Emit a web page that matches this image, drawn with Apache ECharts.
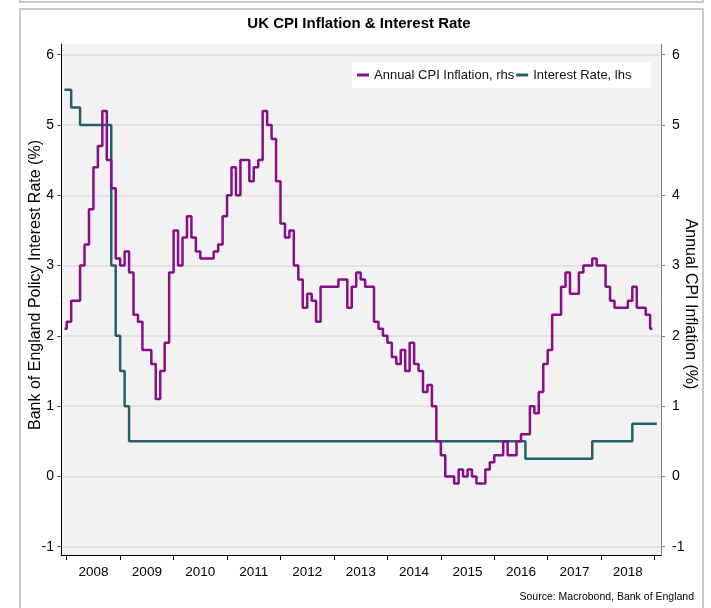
<!DOCTYPE html>
<html>
<head>
<meta charset="utf-8">
<script src="https://cdn.jsdelivr.net/npm/echarts@6/dist/echarts.min.js"></script>
<style>
  html, body { margin: 0; padding: 0; background: #fff; }
  #chart { width: 711px; height: 608px; }
</style>
</head>
<body>
<div id="chart"></div>
<script>
// monthly series, first value is Dec 2007
const firstYear = 2007;
const firstMonth = 12;

// Annual CPI inflation (%), Dec 2007 .. Dec 2018
const cpiInflation = [
  2.1,
  2.2, 2.5, 2.5, 3.0, 3.3, 3.8, 4.4, 4.7, 5.2, 4.5, 4.1, 3.1,
  3.0, 3.2, 2.9, 2.3, 2.2, 1.8, 1.8, 1.6, 1.1, 1.5, 1.9, 2.9,
  3.5, 3.0, 3.4, 3.7, 3.4, 3.2, 3.1, 3.1, 3.1, 3.2, 3.3, 3.7,
  4.0, 4.4, 4.0, 4.5, 4.5, 4.2, 4.4, 4.5, 5.2, 5.0, 4.8, 4.2,
  3.6, 3.4, 3.5, 3.0, 2.8, 2.4, 2.6, 2.5, 2.2, 2.7, 2.7, 2.7,
  2.7, 2.8, 2.8, 2.4, 2.7, 2.9, 2.8, 2.7, 2.7, 2.2, 2.1, 2.0,
  1.9, 1.7, 1.6, 1.8, 1.5, 1.9, 1.6, 1.5, 1.2, 1.3, 1.0, 0.5,
  0.3, 0.0, 0.0, -0.1, 0.1, 0.0, 0.1, 0.0, -0.1, -0.1, 0.1, 0.2,
  0.3, 0.3, 0.5, 0.3, 0.3, 0.5, 0.6, 0.6, 1.0, 0.9, 1.2, 1.6,
  1.8, 2.3, 2.3, 2.7, 2.9, 2.6, 2.6, 2.9, 3.0, 3.0, 3.1, 3.0,
  3.0, 2.7, 2.5, 2.4, 2.4, 2.4, 2.5, 2.7, 2.4, 2.4, 2.3, 2.1
];

// Bank Rate (%), Dec 2007 .. Jan 2019
const interestRate = [
  5.5,
  5.5, 5.25, 5.25, 5.0, 5.0, 5.0, 5.0, 5.0, 5.0, 5.0, 3.0, 2.0,
  1.5, 1.0, 0.5, 0.5, 0.5, 0.5, 0.5, 0.5, 0.5, 0.5, 0.5, 0.5,
  0.5, 0.5, 0.5, 0.5, 0.5, 0.5, 0.5, 0.5, 0.5, 0.5, 0.5, 0.5,
  0.5, 0.5, 0.5, 0.5, 0.5, 0.5, 0.5, 0.5, 0.5, 0.5, 0.5, 0.5,
  0.5, 0.5, 0.5, 0.5, 0.5, 0.5, 0.5, 0.5, 0.5, 0.5, 0.5, 0.5,
  0.5, 0.5, 0.5, 0.5, 0.5, 0.5, 0.5, 0.5, 0.5, 0.5, 0.5, 0.5,
  0.5, 0.5, 0.5, 0.5, 0.5, 0.5, 0.5, 0.5, 0.5, 0.5, 0.5, 0.5,
  0.5, 0.5, 0.5, 0.5, 0.5, 0.5, 0.5, 0.5, 0.5, 0.5, 0.5, 0.5,
  0.5, 0.5, 0.5, 0.5, 0.5, 0.5, 0.5, 0.25, 0.25, 0.25, 0.25, 0.25,
  0.25, 0.25, 0.25, 0.25, 0.25, 0.25, 0.25, 0.25, 0.25, 0.25, 0.5, 0.5,
  0.5, 0.5, 0.5, 0.5, 0.5, 0.5, 0.5, 0.75, 0.75, 0.75, 0.75, 0.75,
  0.75
];

const yTicks = [-1, 0, 1, 2, 3, 4, 5, 6];
const yearTicks = [2008, 2009, 2010, 2011, 2012, 2013, 2014, 2015, 2016, 2017, 2018, 2019];
const yearLabels = [2008, 2009, 2010, 2011, 2012, 2013, 2014, 2015, 2016, 2017, 2018];

const purple = '#880d88';
const teal = '#23606e';
const font = "'Liberation Sans', Arial, sans-serif";

// x position = middle of the month, in years
const monthX = (i) => firstYear + (firstMonth - 1 + i + 0.5) / 12;

const chart = echarts.init(document.getElementById('chart'));

const option = {
  animation: false,
  backgroundColor: '#fff',
  title: {
    text: 'UK CPI Inflation & Interest Rate',
    left: 354,
    top: 11,
    textAlign: 'center',
    textStyle: { fontFamily: font, fontSize: 15, fontWeight: 'bold', color: '#000' }
  },
  legend: {
    left: 352,
    top: 62,
    backgroundColor: '#fff',
    padding: [6, 19, 6, 5],
    itemWidth: 12,
    itemHeight: 3,
    itemGap: 2,
    icon: 'rect',
    textStyle: { fontFamily: font, fontSize: 13, color: '#111', lineHeight: 14 },
    data: ['Annual CPI Inflation, rhs', 'Interest Rate, lhs']
  },
  grid: {
    left: 61,
    right: 50,
    top: 44,
    bottom: 53,
    show: true,
    backgroundColor: '#f2f2f2',
    borderWidth: 0
  },
  xAxis: {
    type: 'value',
    min: 2007.893,
    max: 2019.12,
    axisLine: { show: true, onZero: false, lineStyle: { color: '#000', width: 1 } },
    axisTick: { show: true, customValues: yearTicks, length: 5, lineStyle: { color: '#000' } },
    axisLabel: {
      customValues: yearLabels.map((y) => y + 0.5),
      formatter: (v) => String(Math.floor(v)),
      margin: 10,
      fontFamily: font,
      fontSize: 13.5,
      color: '#000'
    },
    splitLine: { show: false }
  },
  yAxis: [
    {
      type: 'value',
      position: 'left',
      min: -1.118,
      max: 6.152,
      name: 'Bank of England Policy Interest Rate (%)',
      nameLocation: 'middle',
      nameGap: 17,
      nameMoveOverlap: false,
      nameTextStyle: { fontFamily: font, fontSize: 16, color: '#000', padding: [0, 0, 0, 29] },
      axisLine: { show: true, lineStyle: { color: '#000' } },
      axisTick: { show: true, customValues: yTicks, length: 4, lineStyle: { color: '#555' } },
      axisLabel: { customValues: yTicks, margin: 7, fontFamily: font, fontSize: 14, color: '#000' },
      splitLine: { show: true, showMinLine: true, showMaxLine: true, lineStyle: { color: '#dcdcdc', width: 1.5 } }
    },
    {
      type: 'value',
      position: 'right',
      min: -1.118,
      max: 6.152,
      name: 'Annual CPI Inflation (%)',
      nameLocation: 'middle',
      nameRotate: -90,
      nameGap: 21,
      nameMoveOverlap: false,
      nameTextStyle: { fontFamily: font, fontSize: 16, color: '#000', padding: [0, 0, 0, 9] },
      axisLine: { show: true, lineStyle: { color: '#808080' } },
      axisTick: { show: true, customValues: yTicks, length: 4, lineStyle: { color: '#808080' } },
      axisLabel: { customValues: yTicks, margin: 11, fontFamily: font, fontSize: 14, color: '#000' },
      splitLine: { show: false }
    }
  ],
  graphic: [
    { type: 'rect', shape: { x: 20, y: -20, width: 683, height: 22 }, style: { fill: 'none', stroke: '#c8c8c8', lineWidth: 2 }, silent: true },
    { type: 'rect', shape: { x: 20, y: 9, width: 683, height: 640 }, style: { fill: 'none', stroke: '#c8c8c8', lineWidth: 2 }, silent: true },
    {
      type: 'text',
      x: 694,
      y: 597,
      style: {
        text: 'Source: Macrobond, Bank of England',
        fontFamily: font,
        fontSize: 10.5,
        fill: '#000',
        textAlign: 'right',
        textVerticalAlign: 'middle'
      },
      silent: true
    }
  ],
  series: [
    {
      name: 'Interest Rate, lhs',
      type: 'line',
      yAxisIndex: 0,
      step: 'middle',
      symbol: 'none',
      z: 2,
      data: interestRate.map((v, i) => [monthX(i), v]),
      lineStyle: { color: teal, width: 2.5 },
      itemStyle: { color: teal }
    },
    {
      name: 'Annual CPI Inflation, rhs',
      type: 'line',
      yAxisIndex: 1,
      step: 'middle',
      symbol: 'none',
      z: 3,
      data: cpiInflation.map((v, i) => [monthX(i), v]),
      lineStyle: { color: purple, width: 2.5 },
      itemStyle: { color: purple }
    }
  ]
};

chart.setOption(option);
window.addEventListener('resize', () => chart.resize());
</script>
</body>
</html>
